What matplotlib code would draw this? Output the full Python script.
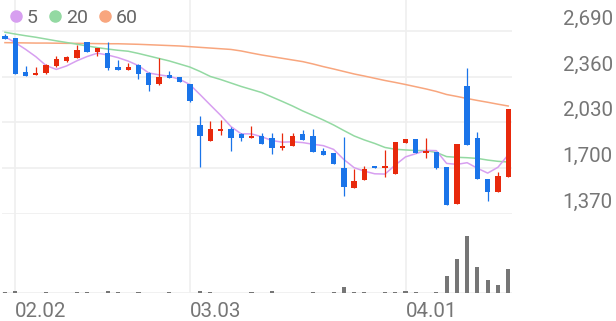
import numpy as np
import matplotlib.pyplot as plt
from matplotlib.lines import Line2D

plt.rcParams['font.family'] = ['Roboto', 'DejaVu Sans']

#*--данные (дневные свечи)---------------------------------------------------
opens = [2654, 2642, 2396, 2370, 2385, 2440, 2474, 2497, 2608, 2541,
         2529, 2432, 2409, 2445, 2385, 2308, 2373, 2356, 2306, 2012,
         1897, 1971, 1983, 1947, 1920, 1933, 1916, 1848, 1861, 1945,
         1933, 1827, 1812, 1700, 1555, 1615, 1707, 1700, 1659, 1884,
         1911, 1808, 1820, 1711, 1442, 2295, 1916, 1622, 1527, 1639]
highs = [2666, 2642, 2440, 2432, 2450, 2510, 2512, 2589, 2608, 2565,
         2613, 2481, 2457, 2450, 2392, 2497, 2404, 2356, 2306, 2079,
         2043, 2048, 2000, 1952, 2005, 1952, 1956, 1956, 1952, 1976,
         1983, 1844, 1812, 1928, 1692, 1718, 1710, 1832, 1892, 1909,
         1911, 1916, 1820, 1711, 1873, 2421, 1959, 1622, 1675, 2125]
lows = [2630, 2378, 2368, 2370, 2380, 2432, 2464, 2497, 2541, 2512,
        2409, 2409, 2409, 2342, 2259, 2300, 2353, 2324, 2180, 1711,
        1897, 1940, 1824, 1899, 1920, 1875, 1801, 1832, 1861, 1904,
        1819, 1796, 1728, 1502, 1555, 1615, 1700, 1639, 1659, 1884,
        1808, 1772, 1695, 1435, 1442, 1868, 1622, 1464, 1527, 1639]
closes = [2630, 2378, 2368, 2385, 2445, 2488, 2505, 2553, 2541, 2565,
          2421, 2409, 2428, 2378, 2300, 2356, 2353, 2324, 2185, 1935,
          1981, 1985, 1920, 1920, 1935, 1875, 1848, 1863, 1933, 1904,
          1819, 1796, 1728, 1567, 1610, 1695, 1700, 1716, 1892, 1909,
          1808, 1820, 1704, 1435, 1873, 1868, 1622, 1527, 1644, 2125]

#*--скользящие средние (5, 20, 60)-------------------------------------------
ma5 = [2649, 2606, 2558, 2505, 2441, 2413, 2438, 2475, 2506, 2530,
       2517, 2498, 2473, 2440, 2387, 2374, 2363, 2342, 2304, 2231,
       2156, 2082, 2001, 1948, 1948, 1927, 1900, 1888, 1891, 1885,
       1873, 1863, 1836, 1763, 1704, 1679, 1660, 1658, 1723, 1782,
       1805, 1829, 1827, 1735, 1728, 1740, 1700, 1665, 1707, 1797]
ma20 = [2681, 2668, 2656, 2645, 2632, 2619, 2607, 2595, 2582, 2570,
        2560, 2551, 2544, 2528, 2510, 2492, 2474, 2452, 2430, 2398,
        2362, 2340, 2315, 2290, 2268, 2246, 2214, 2182, 2149, 2113,
        2081, 2048, 2012, 1972, 1933, 1904, 1879, 1850, 1837, 1832,
        1828, 1827, 1814, 1784, 1779, 1776, 1771, 1759, 1750, 1745]
ma60 = [2606, 2605, 2604, 2603, 2603, 2602, 2601, 2601, 2600, 2599,
        2598, 2598, 2596, 2594, 2591, 2588, 2585, 2582, 2577, 2572,
        2567, 2562, 2557, 2546, 2531, 2517, 2505, 2493, 2481, 2469,
        2452, 2433, 2416, 2398, 2380, 2365, 2349, 2333, 2319, 2304,
        2288, 2272, 2254, 2232, 2218, 2203, 2189, 2176, 2162, 2149]

#*--объём--------------------------------------------------------------------
volume = [90, 230, 80, 70, 90, 80, 70, 90, 100, 80,
          230, 90, 80, 90, 80, 70, 90, 80, 80, 260,
          90, 80, 70, 80, 90, 80, 230, 80, 70, 80,
          90, 80, 100, 600, 120, 90, 80, 160, 160, 260,
          100, 80, 90, 1730, 3430, 5760, 2600, 1330, 830, 2400]

date_idx = [1, 18, 39]
date_labels = ['02.02', '03.03', '04.01']
price_ticks = [2690, 2360, 2030, 1700, 1370]

#*--цвета---------------------------------------------------------------------
c_up = '#e8290c'
c_down = '#1a74e9'
c_ma5 = '#d79ff0'
c_ma20 = '#93d9a2'
c_ma60 = '#f8a67e'
c_grid = '#efefef'
c_text = '#767676'

x = np.arange(len(closes))
o = np.array(opens)
c = np.array(closes)
cols = [c_up if cc >= oo else c_down for oo, cc in zip(o, c)]

W, H = 616, 321
fig = plt.figure(figsize=(W / 100, H / 100), dpi=100)
left = 2.5 / W
width = 509 / W
ax1 = fig.add_axes([left, 107 / H, width, 214 / H])
ax2 = fig.add_axes([left, 27.7 / H, width, 79.3 / H], sharex=ax1)

#*--свечи---------------------------------------------------------------------
ax1.vlines(x, lows, highs, colors=cols, lw=0.9, zorder=3)
body_lo = np.minimum(o, c)
body_h = np.maximum(np.abs(c - o), 14)
ax1.bar(x, body_h, bottom=body_lo, width=0.52, color=cols, lw=0, zorder=4)

ax1.plot(x, ma60, color=c_ma60, lw=1.1, zorder=2)
ax1.plot(x, ma20, color=c_ma20, lw=1.1, zorder=2)
ax1.plot(x, ma5, color=c_ma5, lw=1.1, zorder=2)

ax1.set_xlim(-0.24, 49.32)
ax1.set_ylim(1370, 2690 + 31 * 330 / 45.75)
ax1.set_yticks(price_ticks)
ax1.set_xticks(date_idx)
ax1.grid(True, color=c_grid, lw=1.2)
ax1.tick_params(length=0, labelleft=False, labelbottom=False)
for s in ax1.spines.values():
    s.set_visible(False)

for p in price_ticks:
    ax1.annotate(f'{p:,}', xy=(1.199, p), xycoords=('axes fraction', 'data'),
                 xytext=(0, 4.5), textcoords='offset points',
                 ha='right', va='baseline', fontsize=14.8, color=c_text,
                 annotation_clip=False)

handles = [Line2D([], [], marker='o', ls='', ms=8, color=col)
           for col in (c_ma5, c_ma20, c_ma60)]
leg = ax1.legend(handles, ['5', '20', '60'], loc='upper left',
                 bbox_to_anchor=(-0.006, 0.995), ncol=3, frameon=False,
                 handletextpad=0.1, columnspacing=0.45, handlelength=0.9,
                 borderaxespad=0, prop={'size': 14})
for t in leg.get_texts():
    t.set_color('#666666')

#*--объём---------------------------------------------------------------------
ax2.bar(x, volume, width=0.4, color='#767676', lw=0, zorder=3)
ax2.set_ylim(0, 7930)
ax2.set_yticks([0])
ax2.set_xticks(date_idx)
ax2.set_xticklabels(date_labels)
ax2.grid(True, color=c_grid, lw=1.2)
ax2.tick_params(length=0, labelleft=False, labelsize=14.8, labelcolor=c_text, pad=6.5)
for lab in ax2.get_xticklabels():
    lab.set_ha('left')
for s in ax2.spines.values():
    s.set_visible(False)

fig.savefig('out.png', dpi=100)
